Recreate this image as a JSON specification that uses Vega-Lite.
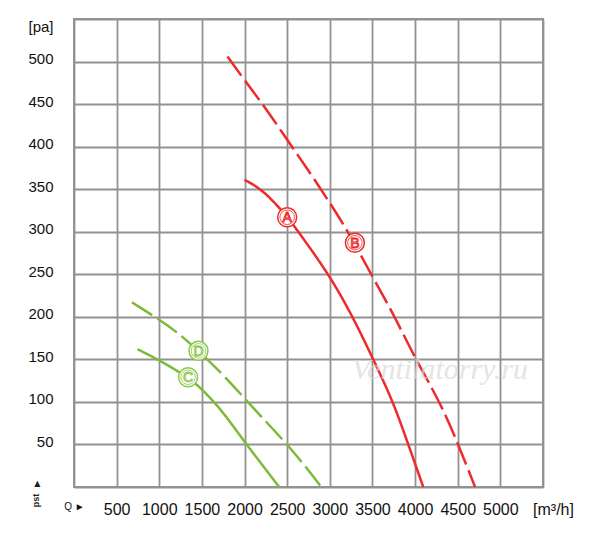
{
  "$schema": "https://vega.github.io/schema/vega-lite/v6.json",
  "width": 469,
  "height": 468,
  "autosize": {"type": "none"},
  "padding": {"left": 74, "top": 19, "right": 57, "bottom": 53},
  "background": "white",
  "config": {
    "view": {"stroke": "#959595", "strokeWidth": 2},
    "axis": {
      "labelFont": "Liberation Sans",
      "labelColor": "#111111",
      "gridColor": "#929292",
      "gridWidth": 1.8,
      "gridOpacity": 1,
      "ticks": false,
      "domain": false,
      "title": null
    }
  },
  "datasets": {
    "curves": [
      {"series": "A", "q": 2000, "p": 361},
      {"series": "A", "q": 2220, "p": 349},
      {"series": "A", "q": 2500, "p": 318},
      {"series": "A", "q": 2630, "p": 300},
      {"series": "A", "q": 2990, "p": 250},
      {"series": "A", "q": 3270, "p": 200},
      {"series": "A", "q": 3500, "p": 152},
      {"series": "A", "q": 3744, "p": 100},
      {"series": "A", "q": 3920, "p": 50},
      {"series": "A", "q": 4096, "p": 0},
      {"series": "B", "q": 1800, "p": 506},
      {"series": "B", "q": 2000, "p": 478},
      {"series": "B", "q": 2250, "p": 445},
      {"series": "B", "q": 2500, "p": 408},
      {"series": "B", "q": 2750, "p": 372},
      {"series": "B", "q": 3000, "p": 334},
      {"series": "B", "q": 3216, "p": 300},
      {"series": "B", "q": 3500, "p": 247},
      {"series": "B", "q": 3764, "p": 200},
      {"series": "B", "q": 4000, "p": 151},
      {"series": "B", "q": 4292, "p": 100},
      {"series": "B", "q": 4507, "p": 50},
      {"series": "B", "q": 4703, "p": 0},
      {"series": "C", "q": 745, "p": 162},
      {"series": "C", "q": 1000, "p": 149},
      {"series": "C", "q": 1340, "p": 129},
      {"series": "C", "q": 1500, "p": 115},
      {"series": "C", "q": 1720, "p": 92},
      {"series": "C", "q": 2000, "p": 53},
      {"series": "C", "q": 2200, "p": 27},
      {"series": "C", "q": 2406, "p": 0},
      {"series": "D", "q": 680, "p": 217},
      {"series": "D", "q": 950, "p": 200},
      {"series": "D", "q": 1200, "p": 183},
      {"series": "D", "q": 1460, "p": 160},
      {"series": "D", "q": 1750, "p": 132},
      {"series": "D", "q": 2000, "p": 104},
      {"series": "D", "q": 2250, "p": 77},
      {"series": "D", "q": 2500, "p": 50},
      {"series": "D", "q": 2700, "p": 26},
      {"series": "D", "q": 2900, "p": 0}
    ],
    "badges": [
      {"series": "A", "q": 2500, "p": 317},
      {"series": "B", "q": 3294, "p": 287},
      {"series": "C", "q": 1338, "p": 129},
      {"series": "D", "q": 1460, "p": 160}
    ],
    "marks": [
      {"text": "▲", "q": -430, "p": 3}
    ],
    "rotated": [
      {"text": "pst", "q": -440, "p": -16}
    ],
    "watermark": [
      {"text": "Ventilatorry.ru", "q": 4292, "p": 137}
    ]
  },
  "encoding": {
    "x": {
      "field": "q",
      "type": "quantitative",
      "scale": {"domain": [0, 5500], "nice": false, "zero": false},
      "axis": {
        "values": [0, 500, 1000, 1500, 2000, 2500, 3000, 3500, 4000, 4500, 5000, 5500],
        "labelExpr": "datum.value == 0 ? 'Q ►' : datum.value == 5500 ? '[m³/h]' : datum.label",
        "format": "d",
        "labelFontSize": {"condition": {"test": "datum.value == 0", "value": 10}, "value": 16},
        "labelOffset": {"condition": {"test": "datum.value == 5500", "value": 10}, "value": 0},
        "labelBaseline": "top",
        "labelPadding": 14,
        "labelFlush": false,
        "labelOverlap": false
      }
    },
    "y": {
      "field": "p",
      "type": "quantitative",
      "scale": {"domain": [0, 550], "nice": false, "zero": false},
      "axis": {
        "values": [0, 50, 100, 150, 200, 250, 300, 350, 400, 450, 500, 550],
        "labelExpr": "datum.value == 550 ? '[pa]' : datum.value == 0 ? '' : datum.label",
        "labelFontSize": 15,
        "labelBaseline": {"condition": {"test": "datum.value == 550", "value": "top"}, "value": "middle"},
        "labelOffset": {"condition": {"test": "datum.value == 550", "value": 0}, "value": -3},
        "labelPadding": 21,
        "labelFlush": false,
        "labelOverlap": false
      }
    }
  },
  "layer": [
    {
      "data": {"name": "curves"},
      "mark": {"type": "line", "interpolate": "basis", "strokeWidth": 2.5},
      "encoding": {
        "color": {
          "field": "series",
          "type": "nominal",
          "scale": {"domain": ["A", "B", "C", "D"], "range": ["#ee2a2a", "#ee2a2a", "#7cbb3a", "#7cbb3a"]},
          "legend": null
        },
        "strokeDash": {
          "field": "series",
          "type": "nominal",
          "scale": {"domain": ["A", "B", "C", "D"], "range": [[1, 0], [24, 6], [1, 0], [24, 6]]},
          "legend": null
        }
      }
    },
    {
      "data": {"name": "watermark"},
      "mark": {"type": "text", "font": "Liberation Serif", "fontStyle": "italic", "fontSize": 30, "color": "#d6d6d6", "opacity": 0.65, "baseline": "middle"},
      "encoding": {"text": {"field": "text"}}
    },
    {
      "data": {"name": "badges"},
      "mark": {"type": "point", "shape": "circle", "filled": false, "fill": "white", "fillOpacity": 1, "size": 360, "strokeWidth": 1.5, "opacity": 1},
      "encoding": {
        "stroke": {"field": "series", "type": "nominal", "scale": {"domain": ["A", "B", "C", "D"], "range": ["#ee2a2a", "#ee2a2a", "#8cc84a", "#8cc84a"]}, "legend": null}
      }
    },
    {
      "data": {"name": "badges"},
      "mark": {"type": "point", "shape": "circle", "filled": false, "size": 210, "strokeWidth": 0.8, "opacity": 1},
      "encoding": {
        "stroke": {"field": "series", "type": "nominal", "scale": {"domain": ["A", "B", "C", "D"], "range": ["#ee2a2a", "#ee2a2a", "#8cc84a", "#8cc84a"]}, "legend": null}
      }
    },
    {
      "data": {"name": "badges"},
      "mark": {"type": "text", "font": "Liberation Sans", "fontSize": 14, "baseline": "middle", "align": "center", "dy": 1, "fill": "white", "strokeWidth": 1},
      "encoding": {
        "text": {"field": "series"},
        "stroke": {"field": "series", "type": "nominal", "scale": {"domain": ["A", "B", "C", "D"], "range": ["#ee2a2a", "#ee2a2a", "#8cc84a", "#8cc84a"]}, "legend": null}
      }
    },
    {
      "data": {"name": "marks"},
      "mark": {"type": "text", "font": "DejaVu Sans", "fontSize": 8, "color": "#1e1e1e", "baseline": "middle"},
      "encoding": {"text": {"field": "text"}}
    },
    {
      "data": {"name": "rotated"},
      "mark": {"type": "text", "font": "Liberation Sans", "fontSize": 9, "fontWeight": "bold", "color": "#1e1e1e", "angle": 270, "baseline": "middle"},
      "encoding": {"text": {"field": "text"}}
    }
  ]
}
